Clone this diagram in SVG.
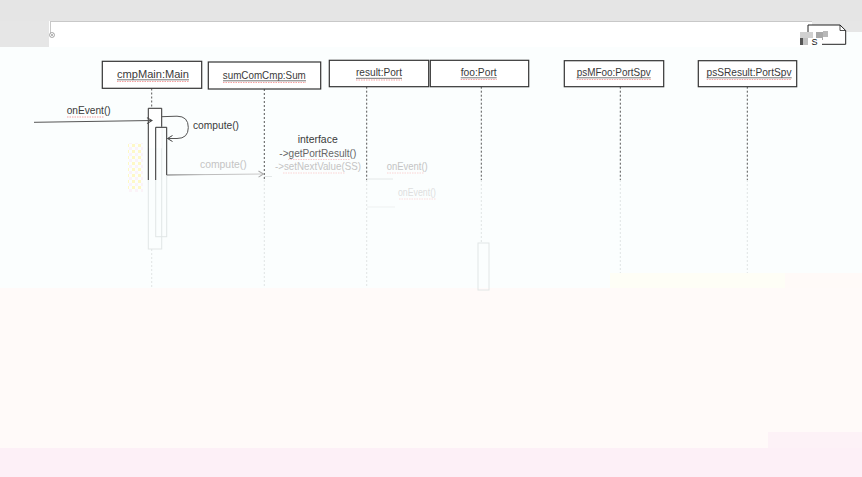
<svg xmlns="http://www.w3.org/2000/svg" width="862" height="477" viewBox="0 0 862 477">
<defs>
<style>
.box{fill:#ffffff;stroke:#333333;stroke-width:1.2}
.lbl{font-family:"Liberation Sans",Arial,sans-serif;font-size:11px;fill:#3a3a3a;text-anchor:middle}
.msg{font-family:"Liberation Sans",Arial,sans-serif;font-size:10.5px;fill:#3a3a3a}
.faint{fill:#c4c4c4}
.fainter{fill:#dedede}
.ul{stroke:#555555;stroke-width:0.8}
.sq{stroke:#f5a0a0;stroke-width:1.2;stroke-dasharray:1.5,1}
.life{stroke:#555555;stroke-width:1;stroke-dasharray:2,2;fill:none}
.lifef{stroke:#e0e4e4;stroke-width:1;stroke-dasharray:2,2;fill:none}
.actf{fill:none;stroke:#e2e6e6;stroke-width:1}
.conn{stroke:#555555;stroke-width:1;fill:none}
</style>
<marker id="arr" markerWidth="8" markerHeight="8" refX="6" refY="4" orient="auto" markerUnits="userSpaceOnUse">
<path d="M1,1 L6,4 L1,7" fill="none" stroke="#444444" stroke-width="1"/>
</marker>
<marker id="arrf" markerWidth="8" markerHeight="8" refX="6" refY="4" orient="auto" markerUnits="userSpaceOnUse">
<path d="M1,1 L6,4 L1,7" fill="none" stroke="#aaaaaa" stroke-width="1"/>
</marker>
<linearGradient id="fade" gradientUnits="userSpaceOnUse" x1="166" y1="0" x2="264" y2="0">
<stop offset="0" stop-color="#666666"/>
<stop offset="0.4" stop-color="#bbbbbb"/>
<stop offset="1" stop-color="#cccccc"/>
</linearGradient>
<pattern id="dots" width="6" height="6" patternUnits="userSpaceOnUse">
<rect x="0" y="0" width="3" height="3" fill="#fff6b0"/>
<rect x="3" y="3" width="3" height="3" fill="#fbeef6"/>
</pattern>
</defs>

<!-- background -->
<rect x="0" y="0" width="862" height="477" fill="#fbfefe"/>
<rect x="0" y="0" width="862" height="21" fill="#e5e5e5"/>
<rect x="0" y="21" width="49" height="26" fill="#e6e6e6"/>
<rect x="812" y="21" width="50" height="11" fill="#e6e6e6"/>
<rect x="49" y="21" width="763" height="26" fill="#ffffff"/>
<line x1="50" y1="21.5" x2="812" y2="21.5" stroke="#c8c8c8" stroke-width="1"/>
<line x1="50.5" y1="21.5" x2="50.5" y2="33" stroke="#c8c8c8" stroke-width="1"/>
<rect x="610" y="273" width="175" height="15" fill="#fefef6"/>
<rect x="785" y="273" width="77" height="15" fill="#fffaf8"/>
<rect x="0" y="288" width="862" height="160" fill="#fffaf9"/>
<rect x="768" y="432" width="94" height="16" fill="#fdf2f7"/>
<rect x="0" y="448" width="862" height="29" fill="#fdf0f7"/>

<!-- small artifacts -->
<g id="corner-icon">
<circle cx="52" cy="35" r="2.5" fill="none" stroke="#9a9a9a" stroke-width="0.8"/>
<path d="M50.5,33.5 L53.5,36.5 M53.5,33.5 L50.5,36.5" stroke="#9a9a9a" stroke-width="0.7"/>
</g>
<g id="note-icon">
<path d="M808,44.3 L808,25 L840,25 L845.7,30.5 L845.7,44.3 Z" fill="#ffffff" stroke="#222222" stroke-width="1"/>
<path d="M840,25 L840,30.5 L845.7,30.5" fill="none" stroke="#222222" stroke-width="0.8"/>
<rect x="800" y="32" width="13" height="6" fill="#d0d0d0"/>
<rect x="816" y="32" width="7" height="8" fill="#a8a8a8"/>
<rect x="823" y="31" width="5" height="6" fill="#888888" opacity="0.6"/>
<rect x="800" y="38" width="3" height="7" fill="#555555"/>
<rect x="803" y="38" width="9" height="7" fill="#c0c0c0"/>
<rect x="808" y="38" width="14" height="7" fill="#ffffff"/>
<text x="811.5" y="44.5" style="font-family:'Liberation Sans',Arial,sans-serif;font-size:9px;fill:#111111">S</text>
</g>
<rect x="128" y="143" width="15" height="49" fill="url(#dots)" opacity="0.7"/>

<!-- activations -->
<g id="act-main">
<rect class="actf" x="148.3" y="108.3" width="13.4" height="140.7"/>
<rect x="148.3" y="108.3" width="13.4" height="40" fill="#ffffff"/>
<path d="M148.3,180 L148.3,108.3 L161.7,108.3 L161.7,127.3" fill="none" stroke="#333333" stroke-width="1"/>
</g>
<g id="act-compute">
<rect class="actf" x="155.7" y="127.3" width="11" height="109.4" fill="#ffffff"/>
<path d="M155.7,180 L155.7,127.3 L166.7,127.3 L166.7,175" fill="none" stroke="#333333" stroke-width="1"/>
</g>
<g id="act-foo">
<rect class="actf" x="478" y="243" width="11" height="47"/>
</g>

<!-- connectors and lifelines -->
<g id="connectors">
<line class="life" x1="151.7" y1="88.5" x2="151.7" y2="108"/>
<line class="lifef" x1="151.7" y1="249" x2="151.7" y2="288"/>
<line class="life" x1="264.3" y1="89" x2="264.3" y2="180"/>
<line class="lifef" x1="264.3" y1="180" x2="264.3" y2="288"/>
<line class="life" x1="366.7" y1="86.7" x2="366.7" y2="180"/>
<line class="lifef" x1="366.7" y1="180" x2="366.7" y2="288"/>
<line class="life" x1="481.3" y1="86.7" x2="481.3" y2="180"/>
<line class="lifef" x1="481.3" y1="180" x2="481.3" y2="243"/>
<line class="life" x1="620.3" y1="86.7" x2="620.3" y2="180"/>
<line class="lifef" x1="620.3" y1="180" x2="620.3" y2="273"/>
<line class="life" x1="747.3" y1="86.7" x2="747.3" y2="180"/>
<line class="lifef" x1="747.3" y1="180" x2="747.3" y2="273"/>

<line class="conn" x1="34" y1="122.3" x2="152" y2="120.5" marker-end="url(#arr)"/>
<path class="conn" d="M161.7,116.7 L177,116.2 Q188.3,116.2 188.3,127.5 Q188.3,138.5 177,138.5 L167.5,138.5" marker-end="url(#arr)"/>
<path d="M166.7,175 L263.5,174" fill="none" stroke="url(#fade)" stroke-width="1" marker-end="url(#arrf)"/>
<line x1="264.3" y1="176.5" x2="272" y2="176.5" stroke="#e4e8e8" stroke-width="1"/>
<line x1="367" y1="179" x2="393" y2="179" stroke="#e4e8e8" stroke-width="1"/>
<line x1="367" y1="207" x2="395" y2="207" stroke="#eef1f1" stroke-width="1"/>
</g>

<!-- lifeline heads -->
<g id="cmpMain">
<rect class="box" x="102.3" y="61.3" width="99.4" height="27"/>
<text class="lbl" x="153" y="77.5" textLength="72" lengthAdjust="spacingAndGlyphs">cmpMain:Main</text>
<line class="ul" x1="117" y1="79.8" x2="189" y2="79.8"/>
<line class="sq" x1="117" y1="81.5" x2="189" y2="81.5"/>
</g>
<g id="sumComCmp">
<rect class="box" x="208.3" y="62" width="112.4" height="27"/>
<text class="lbl" x="264.3" y="78.5" textLength="83" lengthAdjust="spacingAndGlyphs">sumComCmp:Sum</text>
<line class="ul" x1="223" y1="80.8" x2="306" y2="80.8"/>
<line class="sq" x1="223" y1="82.5" x2="306" y2="82.5"/>
</g>
<g id="result">
<rect class="box" x="329.3" y="60.3" width="99.4" height="26.4"/>
<text class="lbl" x="379" y="76" textLength="46" lengthAdjust="spacingAndGlyphs">result:Port</text>
<line class="ul" x1="356" y1="78.3" x2="402" y2="78.3"/>
<line class="sq" x1="356" y1="80" x2="402" y2="80"/>
</g>
<g id="foo">
<rect class="box" x="430.3" y="60.3" width="98.4" height="26.4"/>
<text class="lbl" x="478.7" y="75.5" textLength="36" lengthAdjust="spacingAndGlyphs">foo:Port</text>
<line class="ul" x1="460.7" y1="77.8" x2="496.7" y2="77.8"/>
<line class="sq" x1="460.7" y1="79.5" x2="496.7" y2="79.5"/>
</g>
<g id="psMFoo">
<rect class="box" x="564.3" y="60.7" width="99.4" height="26"/>
<text class="lbl" x="613.7" y="75.5" textLength="74" lengthAdjust="spacingAndGlyphs">psMFoo:PortSpv</text>
<line class="ul" x1="576.7" y1="77.8" x2="650.7" y2="77.8"/>
<line class="sq" x1="576.7" y1="79.5" x2="650.7" y2="79.5"/>
</g>
<g id="psSResult">
<rect class="box" x="698.3" y="60.7" width="98.4" height="26"/>
<text class="lbl" x="749" y="75.5" textLength="85" lengthAdjust="spacingAndGlyphs">psSResult:PortSpv</text>
<line class="ul" x1="706.7" y1="77.8" x2="791.7" y2="77.8"/>
<line class="sq" x1="706.7" y1="79.5" x2="791.7" y2="79.5"/>
</g>

<!-- message labels -->
<g id="labels">
<text class="msg" x="66.7" y="114" textLength="44" lengthAdjust="spacingAndGlyphs">onEvent()</text>
<line class="sq" x1="67" y1="117" x2="104" y2="117"/>
<text class="msg" x="193" y="128.5" textLength="46" lengthAdjust="spacingAndGlyphs">compute()</text>
<text class="msg" x="297.7" y="142.5" textLength="40" lengthAdjust="spacingAndGlyphs">interface</text>
<text class="msg" x="279.3" y="156.5" textLength="77" lengthAdjust="spacingAndGlyphs" style="fill:#666666">-&gt;getPortResult()</text>
<line class="sq" x1="288" y1="159.5" x2="350" y2="159.5" style="stroke:#f8c8c8"/>
<text class="msg faint" x="275" y="170" textLength="86" lengthAdjust="spacingAndGlyphs">-&gt;setNextValue(SS)</text>
<line class="sq" x1="283" y1="173" x2="345" y2="173" style="stroke:#fbd4d4"/>
<text class="msg faint" x="200" y="167.5" textLength="46.7" lengthAdjust="spacingAndGlyphs">compute()</text>
<text class="msg faint" x="386.7" y="170" textLength="41" lengthAdjust="spacingAndGlyphs">onEvent()</text>
<line class="sq" x1="387" y1="173" x2="424" y2="173" style="stroke:#fbd4d4"/>
<text class="msg fainter" x="398" y="196" textLength="38" lengthAdjust="spacingAndGlyphs">onEvent()</text>
<line class="sq" x1="399" y1="199" x2="436" y2="199" style="stroke:#fcdcdc"/>
</g>
</svg>
